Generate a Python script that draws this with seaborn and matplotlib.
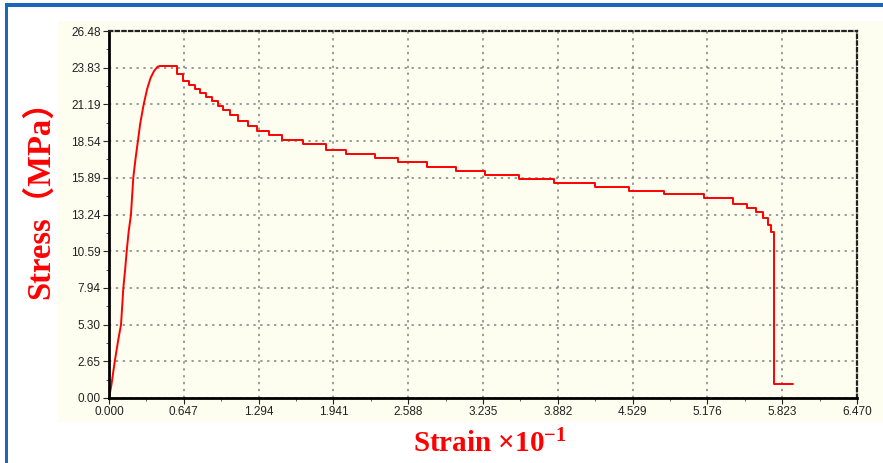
import matplotlib
matplotlib.use("Agg")
import matplotlib.pyplot as plt
from matplotlib.patches import Rectangle
from matplotlib.ticker import MultipleLocator
import seaborn as sns
import pandas as pd

# digitised stress-strain curve (strain x10^-1, stress MPa)
# elastic rise (smooth line)
rise_strain = [0.00, 0.02, 0.05, 0.08, 0.104, 0.124, 0.14, 0.153, 0.17, 0.19,
               0.21, 0.23, 0.25, 0.27, 0.30, 0.33, 0.36, 0.39, 0.42, 0.44]
rise_stress = [0.0, 0.9, 2.65, 4.2, 5.3, 7.94, 9.3, 10.59, 12.0, 13.24,
               15.89, 17.3, 18.54, 19.8, 21.19, 22.3, 23.1, 23.6, 23.9, 23.95]
# post-peak softening (stepped record)
drop_strain = [0.44, 0.59, 0.64, 0.69, 0.74, 0.79, 0.84, 0.89, 0.94, 0.99,
               1.05, 1.12, 1.20, 1.28, 1.38, 1.50, 1.68, 1.88, 2.05, 2.30,
               2.50, 2.75, 3.00, 3.25, 3.55, 3.85, 4.20, 4.50, 4.80, 5.15,
               5.40, 5.52, 5.60, 5.66, 5.70, 5.73, 5.75, 5.92]
drop_stress = [23.95, 23.4, 22.9, 22.6, 22.3, 22.0, 21.7, 21.4, 21.1, 20.8,
               20.4, 20.0, 19.6, 19.3, 19.0, 18.6, 18.3, 17.9, 17.6, 17.3,
               17.0, 16.7, 16.4, 16.1, 15.8, 15.5, 15.2, 14.9, 14.7, 14.4,
               14.0, 13.7, 13.4, 13.0, 12.5, 12.0, 1.0, 1.0]

x_ticks = [0.000, 0.647, 1.294, 1.941, 2.588, 3.235, 3.882, 4.529, 5.176, 5.823, 6.470]
y_ticks = [0.00, 2.65, 5.30, 7.94, 10.59, 13.24, 15.89, 18.54, 21.19, 23.83, 26.48]

rise = pd.DataFrame({"Strain": rise_strain, "Stress": rise_stress})
drop = pd.DataFrame({"Strain": drop_strain, "Stress": drop_stress})

sns.set_style("white")
plt.rcParams["font.family"] = ["Liberation Sans", "DejaVu Sans"]
plt.rcParams["mathtext.fontset"] = "custom"
plt.rcParams["mathtext.rm"] = "Liberation Serif:bold"
plt.rcParams["mathtext.it"] = "Liberation Serif:bold"
plt.rcParams["mathtext.bf"] = "Liberation Serif:bold"

cream = "#fdfdf0"
fig = plt.figure(figsize=(8.83, 4.63), dpi=100, facecolor="white")

# cream panel behind the chart and blue frame
fig.patches.append(Rectangle((58 / 883, 41 / 463), 1 - 58 / 883, 401 / 463,
                             transform=fig.transFigure, facecolor=cream,
                             edgecolor="none", zorder=-5))
fig.patches.append(Rectangle((5 / 883, 456 / 463), 1, 4 / 463,
                             transform=fig.transFigure, facecolor="#1a66b8",
                             edgecolor="none", zorder=-5))
fig.patches.append(Rectangle((5 / 883, 0), 3 / 883, 460 / 463,
                             transform=fig.transFigure, facecolor="#1a66b8",
                             edgecolor="none", zorder=-5))

ax = fig.add_axes([109 / 883, 65 / 463, 748 / 883, 367 / 463])
ax.set_facecolor(cream)

sns.lineplot(data=rise, x="Strain", y="Stress", ax=ax, color="#ff0000",
             linewidth=1.4, estimator=None, sort=False)
sns.lineplot(data=drop, x="Strain", y="Stress", ax=ax, color="#ff0000",
             linewidth=1.4, drawstyle="steps-post", estimator=None, sort=False)

ax.set_xlim(0, 6.470)
ax.set_ylim(0, 26.48)
ax.set_xticks(x_ticks)
ax.set_xticklabels([f"{v:.3f}" for v in x_ticks])
ax.set_yticks(y_ticks)
ax.set_yticklabels([f"{v:.2f}" for v in y_ticks])
ax.xaxis.set_minor_locator(MultipleLocator(0.647 / 2))
ax.yaxis.set_minor_locator(MultipleLocator(2.648 / 2))
ax.tick_params(axis="both", which="major", labelsize=8.5, length=4, width=0.8,
               direction="out", colors="#222222", pad=2, bottom=True, left=True)
ax.tick_params(axis="both", which="minor", length=2, width=0.6,
               direction="out", colors="#444444", bottom=True, left=True)

ax.grid(True, which="major", color="#808080", linestyle=(0, (1.5, 3)), linewidth=1.1)

for side in ["left", "bottom"]:
    ax.spines[side].set_color("black")
    ax.spines[side].set_linewidth(2)
for side in ["top", "right"]:
    ax.spines[side].set_color("#222222")
    ax.spines[side].set_linewidth(1.6)
    ax.spines[side].set_linestyle((0, (1.5, 1.5)))

ax.set_xlabel("")
ax.set_ylabel("")
fig.text(40 / 883, 1 - 192 / 463, "Stress（MPa）", rotation=90, ha="center",
         va="center", color="#ff0000", fontsize=23.5, fontweight="bold",
         family=["Liberation Serif", "Noto Sans CJK SC"])
fig.text(490 / 883, 1 - 444 / 463, r"Strain $\times$10$^{-1}$", ha="center",
         va="center", color="#ff0000", fontsize=21, fontweight="bold",
         family=["Liberation Serif"])

fig.savefig("out.png", dpi=100, facecolor="white")
